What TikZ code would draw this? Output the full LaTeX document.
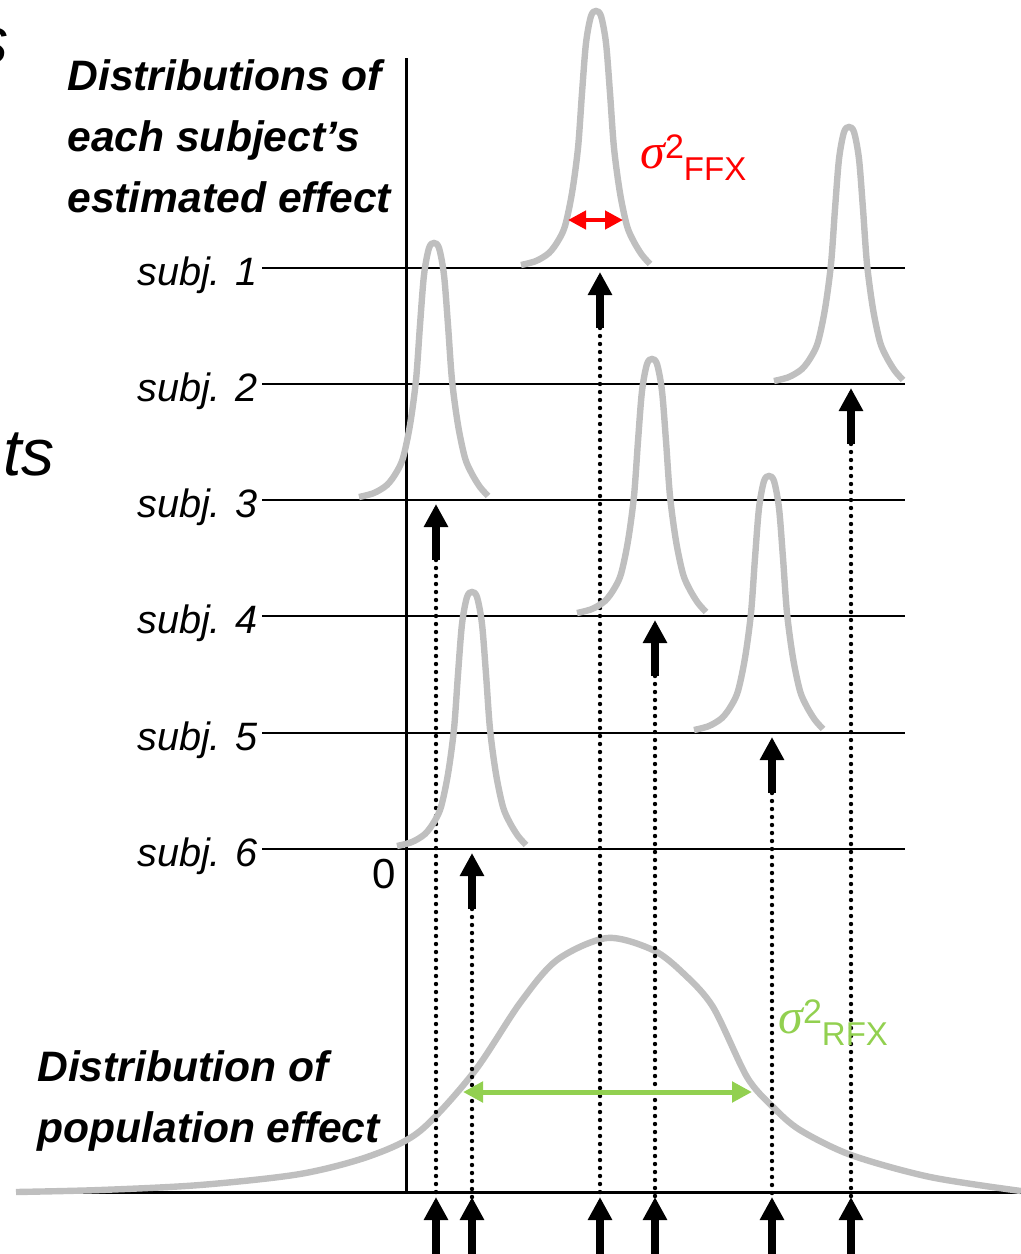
\documentclass[tikz,border=0pt]{standalone}
\usepackage{fontspec}
\setmainfont{Liberation Sans}
\newfontfamily\greekfont{Liberation Serif}
\usetikzlibrary{arrows.meta}

\definecolor{curvegray}{RGB}{191,191,191}
\definecolor{rfxgreen}{RGB}{146,208,80}

\tikzset{
	subjcurve/.style={curvegray, line width=3.2pt},
	subjline/.style={line width=1pt},
	axisline/.style={line width=1.5pt},
	estarrow/.style={line width=4pt, -{Triangle[length=11.5pt,width=11.5pt]}},
	guide/.style={line width=2.2pt, dash pattern=on 0pt off 4pt, line cap=round},
	boldlabel/.style={font=\fontsize{21.3}{30.5}\selectfont\bfseries\itshape, align=left, inner sep=0pt, anchor=north west},
	subjlabel/.style={font=\fontsize{19.8}{24}\selectfont\itshape, inner sep=0pt, anchor=base east},
	varlabel/.style={inner sep=0pt, anchor=base west},
}

\newcommand{\sigmalabel}[1]{{\greekfont\itshape\fontsize{25}{25}\selectfont σ}\raisebox{5pt}{\fontsize{17}{17}\selectfont 2}\raisebox{-6pt}{\fontsize{16.5}{16.5}\selectfont #1}}

\begin{document}
\begin{tikzpicture}[x=0.5pt, y=-0.5pt]
	\useasboundingbox (0,0) rectangle (1021,1254);
	
	% Cut-off words at the left border
	\node[font=\fontsize{33}{33}\selectfont\itshape, inner sep=0pt, anchor=base east] (cuts) at (9,63) {s};
	\node[font=\fontsize{33}{33}\selectfont\itshape, inner sep=0pt, anchor=base east] (cutts) at (55,475) {ts};
	
	% Titles
	\node[boldlabel] (subjtitle) at (67,59) {Distributions of\\each subject’s\\estimated effect};
	\node[boldlabel] (poptitle) at (37,1050) {Distribution of\\population effect};
	
	% Axes
	\coordinate (ytop) at (406,58);
	\coordinate (origin) at (406,1192);
	\coordinate (xleft) at (50,1192);
	\coordinate (xright) at (1021,1192);
	\draw[axisline] (ytop) -- (origin);
	\draw[axisline] (xleft) -- (xright);
	\node[font=\fontsize{21}{21}\selectfont, inner sep=0pt, anchor=base east] (zero) at (396,888) {0};
	
	% Subject lines and labels
	\foreach \i/\ly in {1/268, 2/384, 3/500, 4/616, 5/733, 6/849}{
		\coordinate (l\i) at (262,\ly);
		\coordinate (r\i) at (905,\ly);
		\draw[subjline] (l\i) -- (r\i);
		\node[subjlabel] (subj\i) at (258,{\ly+17}) {subj. \i};
	}
	
	% Population distribution
	\draw[subjcurve] plot[smooth] coordinates {(16,1192) (100,1190) (200,1185) (300,1174) (370,1156) (420,1131) (474,1072) (520,1003) (557,960) (607,938) (653,950) (683,973) (713,1007) (747,1077) (773,1107) (800,1130) (851,1155) (930,1177) (1021,1191)};
	
	% Subject distributions, estimates and their projections
	\foreach \i/\px/\ax/\ly in {1/596/600/268, 2/849/851/384, 3/434/436/500, 4/652/655/616, 5/769/772/733, 6/472/472/849}{
		\draw[subjcurve, shift={(\px,\ly)}] plot[smooth] coordinates {(-75,-3) (-60,-7) (-47,-15) (-38,-27) (-31,-42) (-24,-75) (-18,-120) (-14,-175) (-10,-225) (-5,-252) (0,-257) (5,-252) (10,-225) (14,-175) (18,-120) (24,-75) (31,-42) (38,-26) (46,-13) (54,-4)};
		\coordinate (tip\i) at (\ax,{\ly+4});
		\coordinate (tail\i) at (\ax,{\ly+60});
		\coordinate (btip\i) at (\ax,1197);
		\coordinate (btail\i) at (\ax,1262);
		\draw[guide] (tail\i) -- (btip\i);
		\draw[estarrow] (tail\i) -- (tip\i);
		\draw[estarrow] (btail\i) -- (btip\i);
	}
	
	% Variances
	\coordinate (ffxl) at (568,220);
	\coordinate (ffxr) at (623,220);
	\draw[red, line width=2.2pt, {Triangle[length=9pt,width=9pt]}-{Triangle[length=9pt,width=9pt]}] (ffxl) -- (ffxr);
	\node[varlabel, red] (ffx) at (640,168) {\sigmalabel{FFX}};
	
	\coordinate (rfxl) at (463,1092);
	\coordinate (rfxr) at (752,1092);
	\draw[rfxgreen, line width=2.5pt, {Triangle[length=10pt,width=10pt]}-{Triangle[length=10pt,width=10pt]}] (rfxl) -- (rfxr);
	\node[varlabel, rfxgreen] (rfx) at (778,1033) {\sigmalabel{RFX}};
\end{tikzpicture}
\end{document}
